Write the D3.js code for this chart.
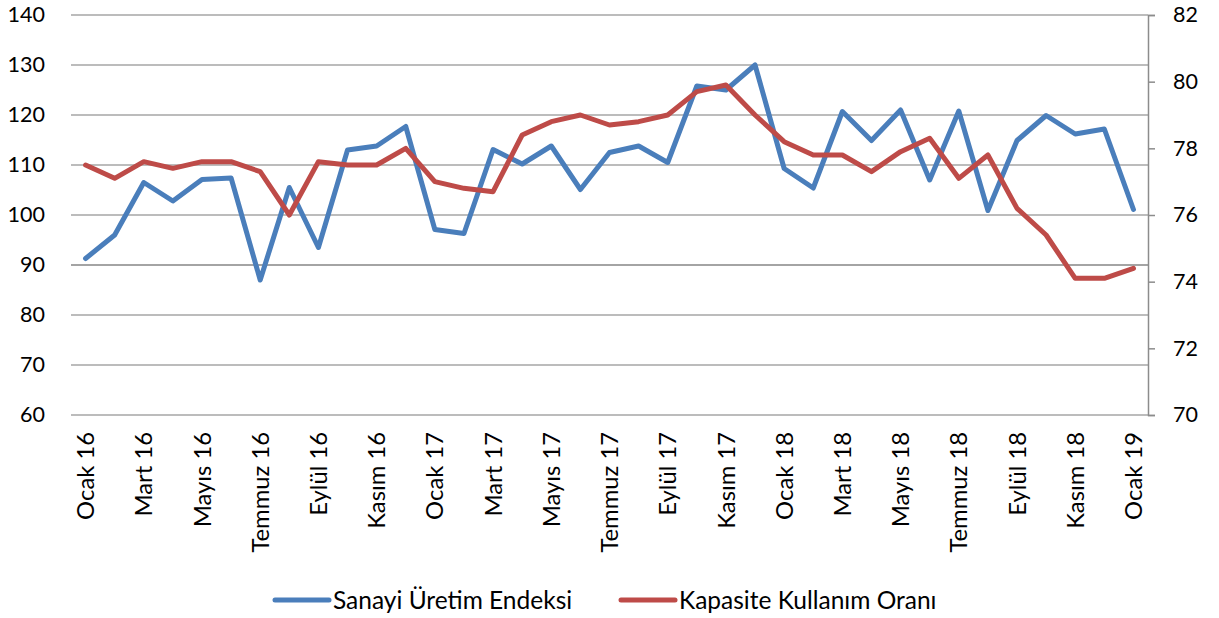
<!DOCTYPE html>
<html lang="tr">
<head>
<meta charset="UTF-8">
<title>Sanayi Üretim Endeksi ve Kapasite Kullanım Oranı</title>
<script src="https://cdn.jsdelivr.net/npm/d3@7"></script>
<style>
  body { margin: 0; background: #fff; }
  svg { display: block; font-family: Lato, "Open Sans", sans-serif; }
</style>
</head>
<body>
<script>
const months = ['Ocak', 'Şubat', 'Mart', 'Nisan', 'Mayıs', 'Haziran', 'Temmuz', 'Ağustos', 'Eylül', 'Ekim', 'Kasım', 'Aralık']
const years = ['16', '17', '18']

// Ocak 16 .. Ocak 19
const categories = []
years.forEach(y => months.forEach(m => categories.push(m + ' ' + y)))
categories.push('Ocak 19')

const sanayi = [
  91.3, 96.0, 106.5, 102.8, 107.1, 107.4, 87.0, 105.5, 93.5, 113.0, 113.8, 117.7,
  97.1, 96.3, 113.1, 110.2, 113.8, 105.1, 112.5, 113.8, 110.5, 125.8, 125.0, 130.0,
  109.3, 105.4, 120.7, 114.9, 121.0, 107.0, 120.8, 100.9, 114.9, 119.9, 116.2, 117.2,
  101.1
]
const kapasite = [
  77.5, 77.1, 77.6, 77.4, 77.6, 77.6, 77.3, 76.0, 77.6, 77.5, 77.5, 78.0,
  77.0, 76.8, 76.7, 78.4, 78.8, 79.0, 78.7, 78.8, 79.0, 79.7, 79.9, 79.0,
  78.2, 77.8, 77.8, 77.3, 77.9, 78.3, 77.1, 77.8, 76.2, 75.4, 74.1, 74.1,
  74.4
]
const leftTicks = [60, 70, 80, 90, 100, 110, 120, 130, 140]
const rightTicks = [70, 72, 74, 76, 78, 80, 82]
const seriesNames = ['Sanayi Üretim Endeksi', 'Kapasite Kullanım Oranı']
const colors = ['#4a7ebb', '#be4b48']

const width = 1219
const height = 618
const margin = { top: 15, right: 71, bottom: 203, left: 71 }

const svg = d3.select('body').append('svg')
  .attr('width', width)
  .attr('height', height)

const x = d3.scaleBand()
  .domain(categories)
  .range([margin.left, width - margin.right])

const yLeft = d3.scaleLinear()
  .domain([60, 140])
  .range([height - margin.bottom, margin.top])

const yRight = d3.scaleLinear()
  .domain([70, 82])
  .range([height - margin.bottom, margin.top])

// gridlines
svg.append('g')
  .selectAll('line')
  .data(leftTicks)
  .enter()
  .append('line')
  .attr('x1', margin.left)
  .attr('x2', width - margin.right)
  .attr('y1', d => yLeft(d))
  .attr('y2', d => yLeft(d))
  .attr('stroke', d => d === 90 ? '#868686' : '#a6a6a6')
  .attr('stroke-width', 1.5)

// left axis (labels only)
const leftAxis = svg.append('g')
  .attr('transform', `translate(${margin.left}, 0)`)
  .call(d3.axisLeft(yLeft).tickValues(leftTicks).tickSize(0).tickPadding(26))
leftAxis.select('.domain').remove()
leftAxis.selectAll('text')
  .attr('font-size', 21.5)
  .attr('fill', '#000')
  .attr('font-family', 'Lato, sans-serif')

// right axis
const rightAxis = svg.append('g')
  .attr('transform', `translate(${width - margin.right}, 0)`)
  .call(d3.axisRight(yRight).tickValues(rightTicks).tickSize(7).tickPadding(18))
rightAxis.select('.domain').attr('stroke', '#8c8c8c').attr('stroke-width', 1.5)
rightAxis.selectAll('.tick line').attr('stroke', '#8c8c8c').attr('stroke-width', 1.5)
rightAxis.selectAll('text')
  .attr('font-size', 21.5)
  .attr('fill', '#000')
  .attr('font-family', 'Lato, sans-serif')

// category labels, every second month
const xAxis = svg.append('g')
  .attr('transform', `translate(0, ${height - margin.bottom})`)
  .call(d3.axisBottom(x)
    .tickValues(categories.filter((d, i) => i % 2 === 0))
    .tickSize(0))
xAxis.select('.domain').remove()
xAxis.selectAll('text')
  .attr('font-size', 23.8)
  .attr('fill', '#000')
  .attr('font-family', 'Lato, sans-serif')
  .attr('transform', 'rotate(-90)')
  .attr('text-anchor', 'end')
  .attr('x', -17)
  .attr('y', 0)
  .attr('dy', '0.36em')

// lines
const lineLeft = d3.line()
  .x((d, i) => x(categories[i]) + x.bandwidth() / 2)
  .y(d => yLeft(d))

const lineRight = d3.line()
  .x((d, i) => x(categories[i]) + x.bandwidth() / 2)
  .y(d => yRight(d))

svg.append('path')
  .datum(sanayi)
  .attr('d', lineLeft)
  .attr('fill', 'none')
  .attr('stroke', colors[0])
  .attr('stroke-width', 5)
  .attr('stroke-linejoin', 'round')
  .attr('stroke-linecap', 'round')

svg.append('path')
  .datum(kapasite)
  .attr('d', lineRight)
  .attr('fill', 'none')
  .attr('stroke', colors[1])
  .attr('stroke-width', 5)
  .attr('stroke-linejoin', 'round')
  .attr('stroke-linecap', 'round')

// legend
const legendItems = [
  { name: seriesNames[0], color: colors[0], x: 275 },
  { name: seriesNames[1], color: colors[1], x: 621 }
]
const legendY = 600

legendItems.forEach(item => {
  svg.append('line')
    .attr('x1', item.x)
    .attr('x2', item.x + 54)
    .attr('y1', legendY)
    .attr('y2', legendY)
    .attr('stroke', item.color)
    .attr('stroke-width', 5)
    .attr('stroke-linecap', 'round')

  svg.append('text')
    .attr('x', item.x + 58)
    .attr('y', legendY)
    .attr('dy', '0.36em')
    .attr('font-size', 24.5)
    .attr('fill', '#000')
    .text(item.name)
})
</script>
</body>
</html>
